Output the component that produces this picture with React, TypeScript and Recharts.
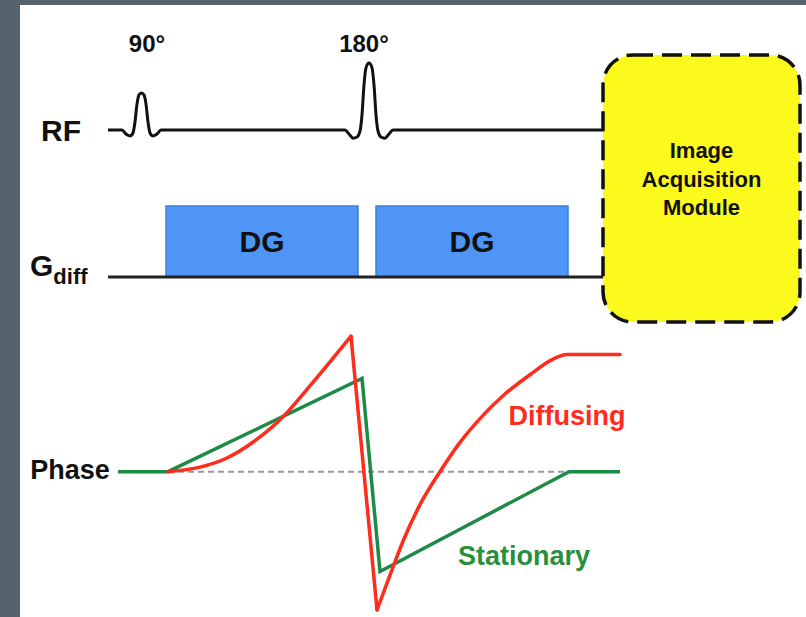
import React from "react";
import {
  ComposedChart,
  Line,
  XAxis,
  YAxis,
  ReferenceArea,
  ReferenceDot,
} from "recharts";

// time axis (a.u.), shared by all three rows
const rfTime = [0, 2.8, 3.6, 4.4, 5.0, 5.4, 5.8, 6.2, 6.7, 7.2, 7.6, 8.0, 8.4, 9.0, 9.8, 10.6,
  47.4, 48.2, 49, 49.8, 50.4, 50.8, 51.2, 51.6, 52.2, 52.8, 53.2, 53.6, 54, 54.6, 55.4, 56.2, 57, 99];
const rfAmp = [0, 0, -0.11, -0.16, -0.08, 0.22, 0.7, 0.95, 1.0, 0.95, 0.7, 0.22, -0.08, -0.16, -0.11, 0,
  0, -0.11, -0.22, -0.19, -0.03, 0.41, 1.22, 1.68, 1.81, 1.68, 1.22, 0.41, -0.03, -0.19, -0.22, -0.11, 0, 0];

const gradTime = [0, 99];
const gradAmp = [0, 0];
const gradLobes = [
  { start: 11.6, end: 50, amp: 1, name: "DG" },
  { start: 53.6, end: 92, amp: 1, name: "DG" },
];

const acquisition = { start: 99, end: 138.4, top: 2.03, bottom: -5.19 };

const stationaryTime = [2, 12, 50.8, 54.4, 92.2, 102.4];
const stationaryPhase = [0, 0, 1.02, -1.09, 0, 0];

const diffusingTime = [12, 18.4, 23.8, 28.4, 35, 39.8, 44.4, 48.6, 53.8, 56.4, 59, 62.4, 66.4,
  70.4, 74.4, 79, 84.4, 89, 91.8, 102.4];
const diffusingPhase = [0, 0.05, 0.15, 0.3, 0.6, 0.9, 1.2, 1.48, -1.51, -1.13, -0.76, -0.36,
  0.0, 0.32, 0.58, 0.83, 1.06, 1.23, 1.28, 1.28];

const zeroTime = [2, 102.4];
const zeroPhase = [0, 0];

const W = 806;
const H = 617;
const FONT = "'Liberation Sans', Arial, Helvetica, sans-serif";
const RED = "#ff2b1c";
const GREEN = "#1d8b45";

const pts = (ts: number[], vs: number[]) => ts.map((t, i) => ({ t, v: vs[i] }));

// diffusing curve: smooth dephasing, sharp flip at the 180°, smooth recovery
const diffusing = pts(diffusingTime, diffusingPhase);
const diffRise = diffusing.slice(0, 8);
const diffFlip = diffusing.slice(7, 9);
const diffRecover = diffusing.slice(8);

// map a row's zero line (px from top) and its px-per-unit into a y domain
const rowDomain = (zeroPx: number, pxPerUnit: number): [number, number] => [
  (zeroPx - H) / pxPerUnit,
  zeroPx / pxPerUnit,
];

const txt = (fill: string, size: number) => ({
  position: "center" as const,
  fill,
  fontSize: size,
  fontWeight: 700,
  fontFamily: FONT,
});

export default function App() {
  return (
    <div style={{ position: "absolute", left: 0, top: 0, width: W, height: H, background: "#56636d" }}>
      <div style={{ position: "absolute", left: 20, top: 5, width: W - 20, height: H - 5, background: "#fff" }} />
      <div style={{ position: "absolute", left: 0, top: 0 }}>
        <ComposedChart width={W} height={H} margin={{ top: 0, right: 0, bottom: 0, left: 8 }}>
          <XAxis type="number" dataKey="t" domain={[-20, 139.6]} allowDataOverflow hide />
          <YAxis yAxisId="rf" type="number" domain={rowDomain(130, 37)} allowDataOverflow hide />
          <YAxis yAxisId="grad" type="number" domain={rowDomain(277, 71)} allowDataOverflow hide />
          <YAxis yAxisId="phase" type="number" domain={rowDomain(471.7, 91.5)} allowDataOverflow hide />

          {gradLobes.map((g, i) => (
            <ReferenceArea
              key={`dg-${i}`}
              yAxisId="grad"
              x1={g.start}
              x2={g.end}
              y1={0}
              y2={g.amp}
              fill="#4e95f6"
              fillOpacity={1}
              stroke="#3a7fdc"
              strokeWidth={1.5}
              ifOverflow="visible"
              label={{ value: g.name, ...txt("#111", 30) }}
            />
          ))}

          <Line yAxisId="rf" data={pts(rfTime, rfAmp)} dataKey="v" type="monotone" stroke="#111"
            strokeWidth={3} dot={false} activeDot={false} isAnimationActive={false} />
          <Line yAxisId="grad" data={pts(gradTime, gradAmp)} dataKey="v" type="linear" stroke="#222"
            strokeWidth={3} dot={false} activeDot={false} isAnimationActive={false} />

          <Line yAxisId="phase" data={pts(zeroTime, zeroPhase)} dataKey="v" type="linear" stroke="#999"
            strokeWidth={2} strokeDasharray="6 4" dot={false} activeDot={false} isAnimationActive={false} />
          <Line yAxisId="phase" data={pts(stationaryTime, stationaryPhase)} dataKey="v" type="linear"
            stroke={GREEN} strokeWidth={3.5} dot={false} activeDot={false} isAnimationActive={false} />
          <Line yAxisId="phase" data={diffRise} dataKey="v" type="monotone" stroke={RED} strokeWidth={3.5}
            strokeLinecap="round" dot={false} activeDot={false} isAnimationActive={false} />
          <Line yAxisId="phase" data={diffFlip} dataKey="v" type="linear" stroke={RED} strokeWidth={3.5}
            strokeLinecap="round" dot={false} activeDot={false} isAnimationActive={false} />
          <Line yAxisId="phase" data={diffRecover} dataKey="v" type="monotone" stroke={RED} strokeWidth={3.5}
            strokeLinecap="round" dot={false} activeDot={false} isAnimationActive={false} />

          <ReferenceArea
            yAxisId="rf"
            x1={acquisition.start}
            x2={acquisition.end}
            y1={acquisition.bottom}
            y2={acquisition.top}
            ifOverflow="visible"
            shape={(p: any) => (
              <rect x={p.x} y={p.y} width={p.width} height={p.height} rx={30} ry={30}
                fill="#fcfa1d" stroke="#111" strokeWidth={3.5} strokeDasharray="20 9" />
            )}
            label={{
              content: (p: any) => {
                const vb = p.viewBox;
                const cx = vb.x + vb.width / 2;
                return (
                  <text textAnchor="middle" fontFamily={FONT} fontWeight={700} fontSize={22} fill="#111">
                    <tspan x={cx} y={vb.y + 103}>Image</tspan>
                    <tspan x={cx} y={vb.y + 132}>Acquisition</tspan>
                    <tspan x={cx} y={vb.y + 160}>Module</tspan>
                  </text>
                );
              },
            }}
          />

          <ReferenceDot yAxisId="rf" x={7.8} y={2.35} r={0} ifOverflow="visible" label={{ value: "90°", ...txt("#111", 24) }} />
          <ReferenceDot yAxisId="rf" x={51.2} y={2.35} r={0} ifOverflow="visible" label={{ value: "180°", ...txt("#111", 24) }} />
          <ReferenceDot yAxisId="rf" x={-9.4} y={0} r={0} ifOverflow="visible" label={{ value: "RF", ...txt("#111", 30) }} />
          <ReferenceDot
            yAxisId="grad"
            x={-15.6}
            y={0.01}
            r={0}
            ifOverflow="visible"
            label={{
              content: (p: any) => (
                <text x={p.viewBox.x} y={p.viewBox.y} fontFamily={FONT} fontWeight={700} fontSize={30} fill="#111">
                  G<tspan fontSize={22} dy={8}>diff</tspan>
                </text>
              ),
            }}
          />
          <ReferenceDot yAxisId="phase" x={-7.6} y={0.03} r={0} ifOverflow="visible" label={{ value: "Phase", ...txt("#111", 27) }} />
          <ReferenceDot yAxisId="phase" x={91.8} y={0.62} r={0} ifOverflow="visible" label={{ value: "Diffusing", ...txt(RED, 27) }} />
          <ReferenceDot yAxisId="phase" x={83.2} y={-0.91} r={0} ifOverflow="visible" label={{ value: "Stationary", ...txt("#2a8f3c", 27) }} />
        </ComposedChart>
      </div>
    </div>
  );
}
